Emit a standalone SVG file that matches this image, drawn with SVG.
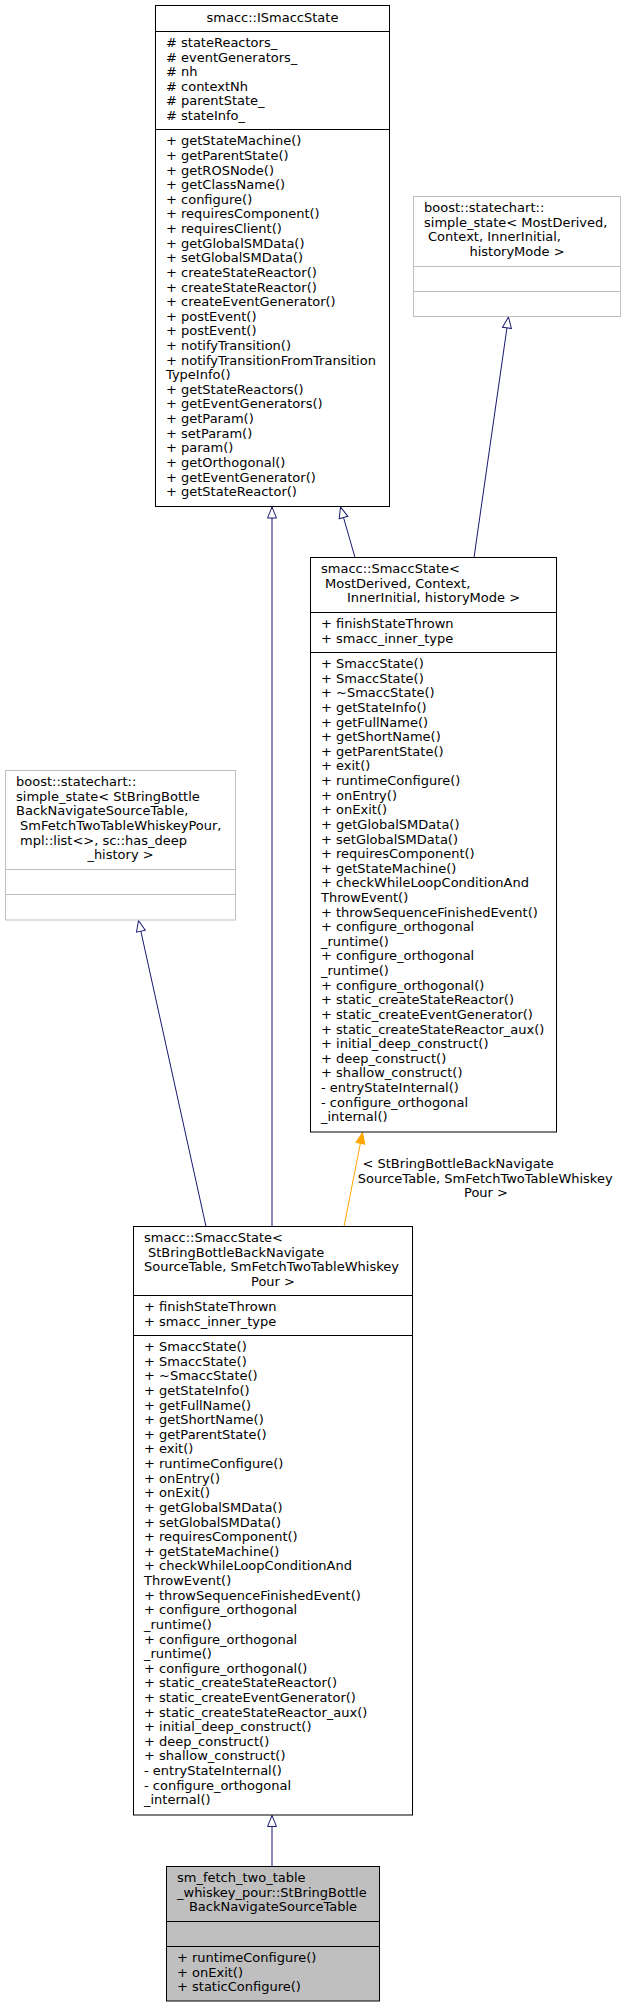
<svg xmlns="http://www.w3.org/2000/svg" width="625" height="2007" viewBox="0 0 625 2007">
<defs>
<style>
text{font-family:"DejaVu Sans",sans-serif;font-size:13px;fill:#000}
.box{fill:#fff;stroke:#000;stroke-width:1}
.ext{fill:#fff;stroke:#bfbfbf;stroke-width:1}
.cur{fill:#bfbfbf;stroke:#000;stroke-width:1}
.sep{stroke:#000;stroke-width:1}
.sepg{stroke:#bfbfbf;stroke-width:1}
.c{text-anchor:middle}
.edge{fill:none;stroke:#191970;stroke-width:1;marker-end:url(#inh)}
.tmpl{fill:none;stroke:#ffa500;stroke-width:1;marker-end:url(#tpl)}
</style>
<marker id="inh" markerUnits="userSpaceOnUse" markerWidth="14" markerHeight="12" viewBox="-1 -6 13 12" refX="11" refY="0" orient="auto"><path d="M0,-4.5 L11,0 L0,4.5 Z" fill="#fff" stroke="#191970"/></marker>
<marker id="tpl" markerUnits="userSpaceOnUse" markerWidth="14" markerHeight="12" viewBox="-1 -6 13 12" refX="11" refY="0" orient="auto"><path d="M0,-4.5 L11,0 L0,4.5 Z" fill="#ffa500" stroke="#ffa500"/></marker>
</defs>
<rect x="0" y="0" width="625" height="2007" fill="#fff"/>

<g id="connectors">
<path class="edge" d="M355,557.5 L340.5,507"/>
<path class="edge" d="M474,557.5 L508.5,317"/>
<path class="edge" d="M272,1226.5 L272,507"/>
<path class="edge" d="M206,1226.5 L138.5,920.5"/>
<path class="tmpl" d="M344,1226.5 L362.5,1132.5"/>
<path class="edge" d="M272,1866.5 L272,1815.5"/>
<text x="362.5" y="1168">&lt; StBringBottleBackNavigate</text>
<text x="357.7" y="1182.6">SourceTable, SmFetchTwoTableWhiskey</text>
<text class="c" x="486" y="1197.2">Pour &gt;</text>
</g>

<g id="node-ISmaccState">
<rect class="box" x="155.5" y="5.5" width="234" height="501"/>
<line class="sep" x1="155.5" y1="31.5" x2="389.5" y2="31.5"/>
<line class="sep" x1="155.5" y1="129.5" x2="389.5" y2="129.5"/>
<text class="c" x="272.5" y="22">smacc::ISmaccState</text>
<text x="166" y="47"><tspan x="166">#&#160;stateReactors_</tspan><tspan x="166" dy="14.62"># eventGenerators_</tspan><tspan x="166" dy="14.62"># nh</tspan><tspan x="166" dy="14.62"># contextNh</tspan><tspan x="166" dy="14.62"># parentState_</tspan><tspan x="166" dy="14.62"># stateInfo_</tspan></text>
<text x="166" y="145.3"><tspan x="166">+ getStateMachine()</tspan><tspan x="166" dy="14.62">+ getParentState()</tspan><tspan x="166" dy="14.62">+ getROSNode()</tspan><tspan x="166" dy="14.62">+ getClassName()</tspan><tspan x="166" dy="14.62">+ configure()</tspan><tspan x="166" dy="14.62">+ requiresComponent()</tspan><tspan x="166" dy="14.62">+ requiresClient()</tspan><tspan x="166" dy="14.62">+ getGlobalSMData()</tspan><tspan x="166" dy="14.62">+ setGlobalSMData()</tspan><tspan x="166" dy="14.62">+ createStateReactor()</tspan><tspan x="166" dy="14.62">+ createStateReactor()</tspan><tspan x="166" dy="14.62">+ createEventGenerator()</tspan><tspan x="166" dy="14.62">+ postEvent()</tspan><tspan x="166" dy="14.62">+ postEvent()</tspan><tspan x="166" dy="14.62">+ notifyTransition()</tspan><tspan x="166" dy="14.62">+ notifyTransitionFromTransition</tspan><tspan x="166" dy="14.62">TypeInfo()</tspan><tspan x="166" dy="14.62">+ getStateReactors()</tspan><tspan x="166" dy="14.62">+ getEventGenerators()</tspan><tspan x="166" dy="14.62">+ getParam()</tspan><tspan x="166" dy="14.62">+ setParam()</tspan><tspan x="166" dy="14.62">+ param()</tspan><tspan x="166" dy="14.62">+ getOrthogonal()</tspan><tspan x="166" dy="14.62">+ getEventGenerator()</tspan><tspan x="166" dy="14.62">+ getStateReactor()</tspan></text>
</g>

<g id="node-simple_state-generic">
<rect class="ext" x="413.5" y="196.5" width="207" height="120"/>
<line class="sepg" x1="413.5" y1="266.5" x2="620.5" y2="266.5"/>
<line class="sepg" x1="413.5" y1="291.5" x2="620.5" y2="291.5"/>
<text x="424" y="212.1">boost::statechart::</text>
<text x="424" y="226.7">simple_state&lt; MostDerived,</text>
<text x="428" y="241.3">Context, InnerInitial,</text>
<text class="c" x="517" y="255.9">historyMode &gt;</text>
</g>

<g id="node-SmaccState-generic">
<rect class="box" x="310.5" y="557.5" width="246" height="574.5"/>
<line class="sep" x1="310.5" y1="612.5" x2="556.5" y2="612.5"/>
<line class="sep" x1="310.5" y1="652.5" x2="556.5" y2="652.5"/>
<text x="321" y="573.1">smacc::SmaccState&lt;</text>
<text x="325" y="587.7">MostDerived, Context,</text>
<text class="c" x="433.5" y="602.3">InnerInitial, historyMode &gt;</text>
<text x="321" y="628.1"><tspan x="321">+ finishStateThrown</tspan><tspan x="321" dy="14.62">+ smacc_inner_type</tspan></text>
<text x="321" y="668.1"><tspan x="321">+ SmaccState()</tspan><tspan x="321" dy="14.62">+ SmaccState()</tspan><tspan x="321" dy="14.62">+ ~SmaccState()</tspan><tspan x="321" dy="14.62">+ getStateInfo()</tspan><tspan x="321" dy="14.62">+ getFullName()</tspan><tspan x="321" dy="14.62">+ getShortName()</tspan><tspan x="321" dy="14.62">+ getParentState()</tspan><tspan x="321" dy="14.62">+ exit()</tspan><tspan x="321" dy="14.62">+ runtimeConfigure()</tspan><tspan x="321" dy="14.62">+ onEntry()</tspan><tspan x="321" dy="14.62">+ onExit()</tspan><tspan x="321" dy="14.62">+ getGlobalSMData()</tspan><tspan x="321" dy="14.62">+ setGlobalSMData()</tspan><tspan x="321" dy="14.62">+ requiresComponent()</tspan><tspan x="321" dy="14.62">+ getStateMachine()</tspan><tspan x="321" dy="14.62">+ checkWhileLoopConditionAnd</tspan><tspan x="321" dy="14.62">ThrowEvent()</tspan><tspan x="321" dy="14.62">+ throwSequenceFinishedEvent()</tspan><tspan x="321" dy="14.62">+ configure_orthogonal</tspan><tspan x="321" dy="14.62">_runtime()</tspan><tspan x="321" dy="14.62">+ configure_orthogonal</tspan><tspan x="321" dy="14.62">_runtime()</tspan><tspan x="321" dy="14.62">+ configure_orthogonal()</tspan><tspan x="321" dy="14.62">+ static_createStateReactor()</tspan><tspan x="321" dy="14.62">+ static_createEventGenerator()</tspan><tspan x="321" dy="14.62">+ static_createStateReactor_aux()</tspan><tspan x="321" dy="14.62">+ initial_deep_construct()</tspan><tspan x="321" dy="14.62">+ deep_construct()</tspan><tspan x="321" dy="14.62">+ shallow_construct()</tspan><tspan x="321" dy="14.62">- entryStateInternal()</tspan><tspan x="321" dy="14.62">- configure_orthogonal</tspan><tspan x="321" dy="14.62">_internal()</tspan></text>
</g>

<g id="node-simple_state-instance">
<rect class="ext" x="5.5" y="770.5" width="230" height="149.5"/>
<line class="sepg" x1="5.5" y1="869.5" x2="235.5" y2="869.5"/>
<line class="sepg" x1="5.5" y1="894.5" x2="235.5" y2="894.5"/>
<text x="16" y="786.1">boost::statechart::</text>
<text x="16" y="800.7">simple_state&lt; StBringBottle</text>
<text x="16" y="815.3">BackNavigateSourceTable,</text>
<text x="20" y="829.9">SmFetchTwoTableWhiskeyPour,</text>
<text x="20" y="844.5">mpl::list&lt;&gt;, sc::has_deep</text>
<text class="c" x="120.5" y="859.1">_history &gt;</text>
</g>

<g id="node-SmaccState-instance">
<rect class="box" x="133.5" y="1226.5" width="279" height="588.5"/>
<line class="sep" x1="133.5" y1="1295.5" x2="412.5" y2="1295.5"/>
<line class="sep" x1="133.5" y1="1335.5" x2="412.5" y2="1335.5"/>
<text x="144" y="1242.1">smacc::SmaccState&lt;</text>
<text x="148" y="1256.7">StBringBottleBackNavigate</text>
<text x="144" y="1271.3">SourceTable, SmFetchTwoTableWhiskey</text>
<text class="c" x="273" y="1285.9">Pour &gt;</text>
<text x="144" y="1311.1"><tspan x="144">+ finishStateThrown</tspan><tspan x="144" dy="14.62">+ smacc_inner_type</tspan></text>
<text x="144" y="1351.1"><tspan x="144">+ SmaccState()</tspan><tspan x="144" dy="14.62">+ SmaccState()</tspan><tspan x="144" dy="14.62">+ ~SmaccState()</tspan><tspan x="144" dy="14.62">+ getStateInfo()</tspan><tspan x="144" dy="14.62">+ getFullName()</tspan><tspan x="144" dy="14.62">+ getShortName()</tspan><tspan x="144" dy="14.62">+ getParentState()</tspan><tspan x="144" dy="14.62">+ exit()</tspan><tspan x="144" dy="14.62">+ runtimeConfigure()</tspan><tspan x="144" dy="14.62">+ onEntry()</tspan><tspan x="144" dy="14.62">+ onExit()</tspan><tspan x="144" dy="14.62">+ getGlobalSMData()</tspan><tspan x="144" dy="14.62">+ setGlobalSMData()</tspan><tspan x="144" dy="14.62">+ requiresComponent()</tspan><tspan x="144" dy="14.62">+ getStateMachine()</tspan><tspan x="144" dy="14.62">+ checkWhileLoopConditionAnd</tspan><tspan x="144" dy="14.62">ThrowEvent()</tspan><tspan x="144" dy="14.62">+ throwSequenceFinishedEvent()</tspan><tspan x="144" dy="14.62">+ configure_orthogonal</tspan><tspan x="144" dy="14.62">_runtime()</tspan><tspan x="144" dy="14.62">+ configure_orthogonal</tspan><tspan x="144" dy="14.62">_runtime()</tspan><tspan x="144" dy="14.62">+ configure_orthogonal()</tspan><tspan x="144" dy="14.62">+ static_createStateReactor()</tspan><tspan x="144" dy="14.62">+ static_createEventGenerator()</tspan><tspan x="144" dy="14.62">+ static_createStateReactor_aux()</tspan><tspan x="144" dy="14.62">+ initial_deep_construct()</tspan><tspan x="144" dy="14.62">+ deep_construct()</tspan><tspan x="144" dy="14.62">+ shallow_construct()</tspan><tspan x="144" dy="14.62">- entryStateInternal()</tspan><tspan x="144" dy="14.62">- configure_orthogonal</tspan><tspan x="144" dy="14.62">_internal()</tspan></text>
</g>

<g id="node-StBringBottleBackNavigateSourceTable">
<rect class="cur" x="166.5" y="1866.5" width="213" height="134.5"/>
<line class="sep" x1="166.5" y1="1921.5" x2="379.5" y2="1921.5"/>
<line class="sep" x1="166.5" y1="1946.5" x2="379.5" y2="1946.5"/>
<text x="177" y="1882.1">sm_fetch_two_table</text>
<text x="177" y="1896.7">_whiskey_pour::StBringBottle</text>
<text class="c" x="273" y="1911.3">BackNavigateSourceTable</text>
<text x="177" y="1962.1"><tspan x="177">+ runtimeConfigure()</tspan><tspan x="177" dy="14.62">+ onExit()</tspan><tspan x="177" dy="14.62">+ staticConfigure()</tspan></text>
</g>
</svg>
